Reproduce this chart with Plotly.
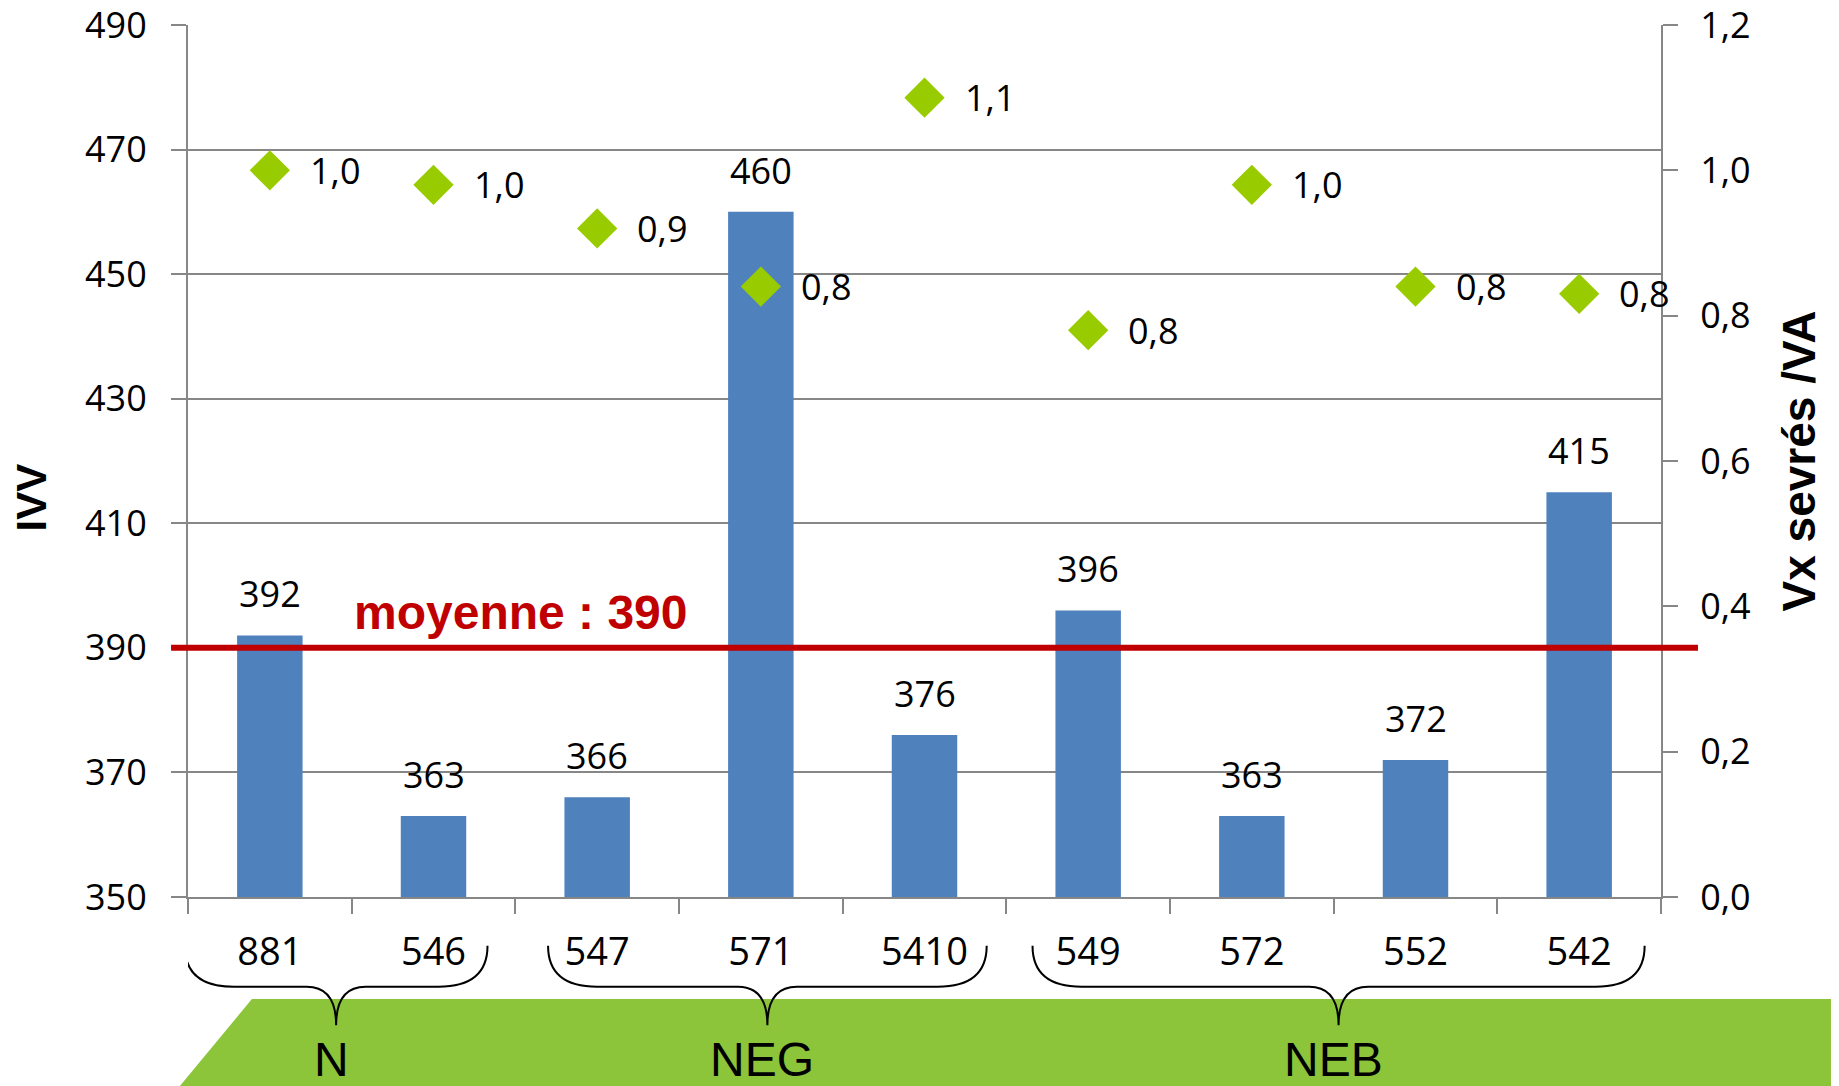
import plotly.graph_objects as go

# data
categories = ['881', '546', '547', '571', '5410', '549', '572', '552', '542']
ivv = [392, 363, 366, 460, 376, 396, 363, 372, 415]
vx_sevres_va = [1.00, 0.98, 0.92, 0.84, 1.10, 0.78, 0.98, 0.84, 0.83]
ivv_moyenne = 390

groups = ['N', 'NEG', 'NEB']
group_first = [0, 2, 5]
group_last = [1, 4, 8]

ivv_ticks = [350, 370, 390, 410, 430, 450, 470, 490]
ratio_ticks = [0.0, 0.2, 0.4, 0.6, 0.8, 1.0, 1.2]

# brace ends, in category units past the first / last bar of each group
BRACE_PAD_LEFT = [0.52, 0.30, 0.34]
BRACE_PAD_RIGHT = [0.33, 0.38, 0.40]

BAR_BLUE = '#4F81BD'
DIAMOND_GREEN = '#99CC00'
MEAN_RED = '#C00000'
BAND_GREEN = '#8CC43A'
GRID = '#878787'
TICK_FONT = dict(family='Open Sans', size=36, color='black')

idx = list(range(len(categories)))
boundaries = [i - 0.5 for i in range(len(categories) + 1)]

fig = go.Figure()

fig.add_trace(go.Bar(
    x=idx, y=ivv, width=0.4, marker=dict(color=BAR_BLUE, line=dict(width=0)),
    yaxis='y', showlegend=False,
))
fig.add_trace(go.Scatter(
    x=idx, y=vx_sevres_va, mode='markers', yaxis='y2', showlegend=False,
    marker=dict(symbol='diamond', size=31, color=DIAMOND_GREEN, line=dict(width=0)),
))

annotations = []
for i, v in zip(idx, ivv):
    annotations.append(dict(x=i, y=v, xref='x', yref='y', text=str(v), showarrow=False,
                            yanchor='bottom', yshift=15, font=TICK_FONT))
for i, v in zip(idx, vx_sevres_va):
    annotations.append(dict(x=i, y=v, xref='x', yref='y2', text=f'{v:.1f}'.replace('.', ','),
                            showarrow=False, xanchor='left', yanchor='middle', xshift=38,
                            font=TICK_FONT))

annotations.append(dict(x=0.50, y=ivv_moyenne, xref='x', yref='y', xanchor='left', yanchor='bottom',
                        yshift=7, showarrow=False, text=f'<b>moyenne : {ivv_moyenne}</b>',
                        font=dict(family='Liberation Sans', size=48, color=MEAN_RED)))

annotations.append(dict(x=-0.106, y=0.458, xref='paper', yref='paper', text='<b>IVV</b>',
                        textangle=-90, showarrow=False, xanchor='center', yanchor='middle',
                        font=dict(family='Liberation Sans', size=42, color='black')))
annotations.append(dict(x=1.094, y=0.5, xref='paper', yref='paper', text='<b>Vx sevrés /VA</b>',
                        textangle=-90, showarrow=False, xanchor='center', yanchor='middle',
                        font=dict(family='Liberation Sans', size=46, color='black')))

shapes = []
# green band under the groups
shapes.append(dict(type='path', xref='paper', yref='paper', layer='below',
                   path='M 0.0434,-0.117 L 1.13,-0.117 L 1.13,-0.23 L -0.012,-0.23 Z',
                   fillcolor=BAND_GREEN, line=dict(width=0)))

# mean line
shapes.append(dict(type='line', xref='paper', yref='y', x0=-0.0115, x1=1.0251,
                   y0=ivv_moyenne, y1=ivv_moyenne, layer='above',
                   line=dict(color=MEAN_RED, width=6)))


def brace_path(xl, xr, yt=-0.056, ym=-0.103, yb=-0.147, r=0.3, rt=0.18):
    xc = (xl + xr) / 2
    return (f'M {xl},{yt} Q {xl},{ym} {xl + r},{ym} L {xc - rt},{ym} '
            f'Q {xc},{ym} {xc},{yb} Q {xc},{ym} {xc + rt},{ym} '
            f'L {xr - r},{ym} Q {xr},{ym} {xr},{yt}')


for name, a, b, pl, pr in zip(groups, group_first, group_last, BRACE_PAD_LEFT, BRACE_PAD_RIGHT):
    xl, xr = a - pl, b + pr
    shapes.append(dict(type='path', xref='x', yref='paper', layer='above',
                       path=brace_path(xl, xr), line=dict(color='black', width=2)))
    annotations.append(dict(x=(xl + xr) / 2 - 0.03, y=-0.186, xref='x', yref='paper', text=name,
                            showarrow=False, yanchor='middle',
                            font=dict(family='Liberation Sans', size=48, color='black')))

fig.update_layout(
    # the page body adds an 8px offset top/left, so the figure is 8px smaller than the window
    width=1831, height=1078,
    margin=dict(l=180, r=178, t=17, b=189, autoexpand=False),
    paper_bgcolor='white', plot_bgcolor='white',
    separators=', ',
    bargap=0.6,
    shapes=shapes,
    annotations=annotations,
    xaxis=dict(
        range=[-0.5, len(categories) - 0.5], tickmode='array', tickvals=idx, ticktext=categories,
        ticks='', showgrid=False, zeroline=False, showline=True, linecolor=GRID, linewidth=2,
        tickfont=dict(family='Open Sans', size=38, color='black'), ticklabelstandoff=20,
        automargin=False,
        minor=dict(tickmode='array', tickvals=boundaries, ticks='outside', ticklen=15,
                   tickwidth=2, tickcolor=GRID, showgrid=False),
    ),
    yaxis=dict(
        range=[ivv_ticks[0], ivv_ticks[-1]], tickmode='array', tickvals=ivv_ticks,
        ticks='outside', ticklen=15, tickwidth=2, tickcolor=GRID,
        showgrid=True, gridcolor=GRID, gridwidth=2, zeroline=False,
        showline=True, linecolor=GRID, linewidth=2,
        tickfont=TICK_FONT, ticklabelstandoff=17, automargin=False, ticklabeloverflow='allow',
    ),
    yaxis2=dict(
        overlaying='y', side='right', range=[ratio_ticks[0], ratio_ticks[-1]],
        tickmode='array', tickvals=ratio_ticks, tickformat='.1f',
        ticks='outside', ticklen=15, tickwidth=2, tickcolor=GRID,
        showgrid=False, zeroline=False, showline=True, linecolor=GRID, linewidth=2,
        tickfont=TICK_FONT, ticklabelstandoff=15, automargin=False, ticklabeloverflow='allow',
    ),
)

fig.write_html('out.html')
